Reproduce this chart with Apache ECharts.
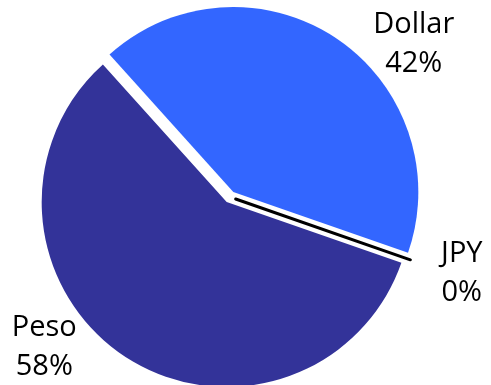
<!DOCTYPE html>
<html>
<head>
<meta charset="utf-8">
<script src="https://cdn.jsdelivr.net/npm/echarts@6/dist/echarts.min.js"></script>
<style>
  html, body { margin: 0; padding: 0; background: #fff; }
  #chart { width: 491px; height: 385px; }
</style>
</head>
<body>
<div id="chart"></div>
<script>
// Currency shares
const currencies = ['Dollar', 'JPY', 'Peso'];
const shares = [42, 0, 58];
const sliceColors = ['#3366FF', '#000000', '#333399'];

// Label placement per slice: leader length, horizontal run, text box width, padding
const labelTweaks = {
  Dollar: { length: 0, length2: 28, width: 90, padding: [12, 0, 0, 0] },
  JPY:    { length: 10, length2: 12, width: 50, padding: [20, 0, 0, 0] },
  Peso:   { length: 0, length2: 40, width: 70, padding: [0, 0, 18, 0] }
};

const chart = echarts.init(document.getElementById('chart'), null, { renderer: 'canvas' });

const pieData = currencies.map((name, i) => {
  const t = labelTweaks[name];
  const isZero = shares[i] === 0;
  return {
    name: name,
    value: shares[i],
    selected: true,
    itemStyle: {
      color: sliceColors[i],
      borderColor: isZero ? '#000000' : 'transparent',
      borderWidth: isZero ? 3 : 0
    },
    labelLine: { show: false, length: t.length, length2: t.length2 },
    label: {
      padding: t.padding,
      rich: {
        t: { width: t.width, align: 'center', fontSize: 29, lineHeight: 39,
             fontFamily: 'Open Sans', color: '#000' }
      }
    }
  };
});

chart.setOption({
  animation: false,
  backgroundColor: '#ffffff',
  series: [{
    type: 'pie',
    center: [230, 197],
    radius: 185,
    startAngle: 132,
    clockwise: true,
    selectedMode: 'multiple',
    selectedOffset: 6,
    avoidLabelOverlap: false,
    emphasis: { disabled: true },
    select: { itemStyle: {} },
    label: {
      show: true,
      position: 'outside',
      alignTo: 'none',
      distanceToLabelLine: 5,
      formatter: p => '{t|' + p.name + '}\n{t|' + Math.round(p.percent) + '%}'
    },
    labelLine: { show: false },
    data: pieData
  }]
});
</script>
</body>
</html>
